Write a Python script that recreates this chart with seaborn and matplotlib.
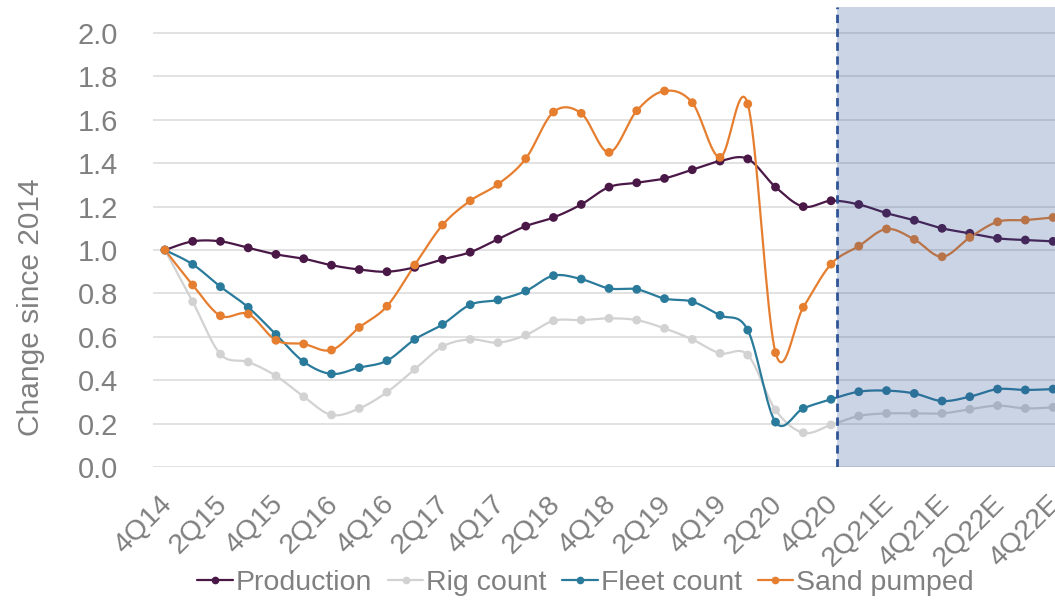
import numpy as np
import pandas as pd
import matplotlib
matplotlib.use("Agg")
import matplotlib.pyplot as plt
import matplotlib.transforms as mtransforms
import seaborn as sns
from matplotlib.lines import Line2D

quarters = ["4Q14", "1Q15", "2Q15", "3Q15", "4Q15", "1Q16", "2Q16", "3Q16", "4Q16",
            "1Q17", "2Q17", "3Q17", "4Q17", "1Q18", "2Q18", "3Q18", "4Q18",
            "1Q19", "2Q19", "3Q19", "4Q19", "1Q20", "2Q20", "3Q20", "4Q20",
            "1Q21E", "2Q21E", "3Q21E", "4Q21E", "1Q22E", "2Q22E", "3Q22E", "4Q22E"]

production = [1.00, 1.04, 1.04, 1.01, 0.98, 0.96, 0.93, 0.91, 0.90,
              0.92, 0.957, 0.99, 1.05, 1.11, 1.15, 1.21, 1.29,
              1.31, 1.33, 1.37, 1.41, 1.42, 1.29, 1.20, 1.227,
              1.21, 1.17, 1.137, 1.10, 1.077, 1.054, 1.046, 1.04]
rig_count = [1.00, 0.762, 0.52, 0.484, 0.42, 0.324, 0.24, 0.27, 0.345,
             0.45, 0.555, 0.588, 0.573, 0.608, 0.674, 0.677, 0.685,
             0.677, 0.639, 0.588, 0.524, 0.516, 0.263, 0.158, 0.194,
             0.235, 0.247, 0.247, 0.247, 0.266, 0.283, 0.27, 0.275]
fleet_count = [1.00, 0.934, 0.831, 0.736, 0.611, 0.485, 0.429, 0.458, 0.49,
               0.588, 0.657, 0.748, 0.77, 0.811, 0.882, 0.866, 0.823,
               0.819, 0.776, 0.762, 0.699, 0.631, 0.207, 0.27, 0.312,
               0.347, 0.352, 0.339, 0.304, 0.324, 0.359, 0.355, 0.359]
sand_pumped = [1.00, 0.839, 0.697, 0.705, 0.584, 0.567, 0.539, 0.643, 0.741,
               0.931, 1.115, 1.227, 1.303, 1.421, 1.636, 1.63, 1.45,
               1.642, 1.733, 1.679, 1.427, 1.673, 0.527, 0.736, 0.935,
               1.018, 1.097, 1.049, 0.969, 1.058, 1.13, 1.138, 1.15]

series_names = ["Production", "Rig count", "Fleet count", "Sand pumped"]
series_values = [production, rig_count, fleet_count, sand_pumped]
colors = ["#4a1846", "#d2d2d2", "#2a7b9b", "#e67e30"]
forecast_start = "4Q20"

GRAY = "#808080"
FONT = ["Liberation Sans", "DejaVu Sans"]

sns.set_theme(style="white")
plt.rcParams["font.family"] = FONT


def smooth(xs, ys, n=20):
    # Excel-like smoothing (Catmull-Rom as cubic Bezier)
    xs = np.asarray(xs, float)
    ys = np.asarray(ys, float)
    px = np.concatenate([[xs[0]], xs, [xs[-1]]])
    py = np.concatenate([[ys[0]], ys, [ys[-1]]])
    outx, outy = [], []
    t = np.linspace(0, 1, n, endpoint=False)
    for i in range(1, len(px) - 2):
        p0 = np.array([px[i], py[i]])
        p3 = np.array([px[i + 1], py[i + 1]])
        c1 = p0 + (np.array([px[i + 1], py[i + 1]]) - np.array([px[i - 1], py[i - 1]])) / 6
        c2 = p3 - (np.array([px[i + 2], py[i + 2]]) - np.array([px[i], py[i]])) / 6
        b = ((1 - t) ** 3)[:, None] * p0 + (3 * (1 - t) ** 2 * t)[:, None] * c1 \
            + (3 * (1 - t) * t ** 2)[:, None] * c2 + (t ** 3)[:, None] * p3
        outx.extend(b[:, 0])
        outy.extend(b[:, 1])
    outx.append(xs[-1])
    outy.append(ys[-1])
    return np.array(outx), np.array(outy)


fig = plt.figure(figsize=(10.55, 6.05), dpi=100)
ax = fig.add_axes([153 / 1055, 1 - 467 / 605, 902 / 1055, 460 / 605])

x_idx = np.arange(len(quarters))
for name, vals, col in zip(series_names, series_values, colors):
    sx, sy = smooth(x_idx, vals)
    df_s = pd.DataFrame({"x": sx, "y": sy})
    sns.lineplot(data=df_s, x="x", y="y", ax=ax, color=col, linewidth=1.6,
                 sort=False, estimator=None, zorder=3)
    df_p = pd.DataFrame({"x": x_idx, "y": vals})
    sns.scatterplot(data=df_p, x="x", y="y", ax=ax, color=col, s=40,
                    edgecolor="none", zorder=4)

ax.set_xlim(-0.43, 32.07)
ax.set_ylim(0, 2.12)
ax.set_yticks(np.arange(0, 2.01, 0.2))
ax.set_yticklabels([f"{v:.1f}" for v in np.arange(0, 2.01, 0.2)])
ax.yaxis.grid(True, color="#dddddd", linewidth=1.2, zorder=0)
ax.xaxis.grid(False)
for s in ax.spines.values():
    s.set_visible(False)

tick_pos = x_idx[::2]
ax.set_xticks(tick_pos)
ax.set_xticklabels([quarters[i] for i in tick_pos], rotation=45, ha="right",
                   rotation_mode="anchor", color=GRAY, fontsize=20.5)
ax.tick_params(axis="x", length=0, pad=17)
ax.tick_params(axis="y", length=0, pad=25, labelsize=21, labelcolor=GRAY)
shift = mtransforms.ScaledTranslation(-6 / 100, 0, fig.dpi_scale_trans)
for lbl in ax.get_xticklabels():
    lbl.set_transform(lbl.get_transform() + shift)

ax.set_xlabel("")
ax.set_ylabel("Change since 2014", fontsize=21.5, color=GRAY)
ax.yaxis.set_label_coords(-0.12, 0.348)

# forecast shading (semi-transparent overlay on top of the lines)
fs = quarters.index(forecast_start) + 0.2
ax.axvspan(fs, 32.07, color="#2f5597", alpha=0.25, lw=0, zorder=6)
ax.axvline(fs, color="#2f5597", linestyle=(0, (3, 2)), linewidth=2, zorder=7)

handles = [Line2D([0], [0], color=c, lw=1.6, marker="o", markersize=4.5)
           for c in colors]
fig.legend(handles, series_names, loc="center", bbox_to_anchor=(0.555, 0.036),
           ncol=4, frameon=False, fontsize=20.5, handlelength=1.25,
           handletextpad=0.1, columnspacing=0.55, labelcolor=GRAY)

fig.savefig("out.png", dpi=100)
